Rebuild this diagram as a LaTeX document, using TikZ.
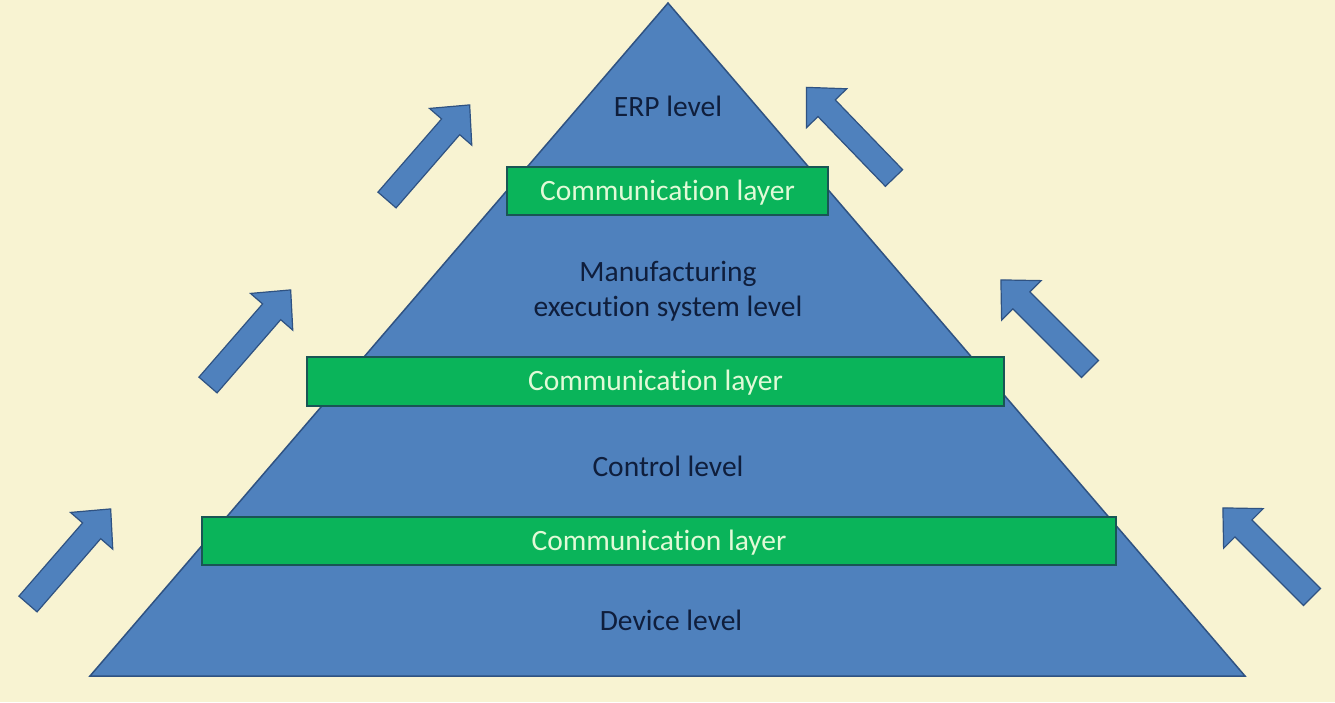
\documentclass[tikz,border=0pt]{standalone}
\usepackage{fontspec}
\setmainfont{Carlito}[Ligatures=NoCommon]
\definecolor{bgcream}{RGB}{248,243,210}
\definecolor{pyrblue}{RGB}{79,129,189}
\definecolor{pyredge}{RGB}{47,82,130}
\definecolor{layergreen}{RGB}{10,180,90}
\definecolor{layeredge}{RGB}{25,85,85}
\definecolor{layertext}{RGB}{225,250,215}
\definecolor{leveltext}{RGB}{15,30,60}
\tikzset{
  pyramid/.style={fill=pyrblue, draw=pyredge, line width=1.5pt, line join=miter},
  layerbar/.style={fill=layergreen, draw=layeredge, line width=1.5pt},
  layerlabel/.style={text=layertext, font=\fontsize{29.5}{35}\selectfont},
  levellabel/.style={text=leveltext, font=\fontsize{29.5}{35}\selectfont, align=center},
  blockarrow/.style={fill=pyrblue, draw=pyredge, line width=1.2pt, line join=miter},
}
\newcommand\upArrow[2]{% tail position, visual angle
  \begin{scope}[shift={#1}, rotate=#2]
    \draw[blockarrow] (0,-12) -- (97,-12) -- (97,-28) -- (126,0) -- (97,28) -- (97,12) -- (0,12) -- cycle;
  \end{scope}}
\begin{document}
\begin{tikzpicture}[x=1pt,y=-1pt]
  \fill[bgcream] (0,0) rectangle (1335,702);
  \useasboundingbox (0,0) rectangle (1335,702);
  % pyramid
  \coordinate (apex) at (668,3);
  \coordinate (bl) at (90,676);
  \coordinate (br) at (1245,676);
  \draw[pyramid] (apex) -- (br) -- (bl) -- cycle;
  % communication layers
  \draw[layerbar] (507,167) rectangle (828,215);
  \node[layerlabel] (cl1) at (667.5,193) {Communication layer};
  \draw[layerbar] (307,357) rectangle (1004,406);
  \node[layerlabel] (cl2) at (655.5,383) {Communication layer};
  \draw[layerbar] (202,517) rectangle (1116,565);
  \node[layerlabel] (cl3) at (659,543) {Communication layer};
  % levels
  \node[levellabel] (erp) at (668,106) {ERP level};
  \node[levellabel] (mes) at (668,291) {Manufacturing\\execution system level};
  \node[levellabel] (ctrl) at (668,466) {Control level};
  \node[levellabel] (dev) at (671,620) {Device level};
  % arrows left
  \upArrow{(28,604)}{49}
  \upArrow{(208,385)}{49}
  \upArrow{(387,200)}{49}
  % arrows right
  \upArrow{(894,178)}{134}
  \upArrow{(1090,369)}{135}
  \upArrow{(1312,597)}{135}
\end{tikzpicture}
\end{document}
